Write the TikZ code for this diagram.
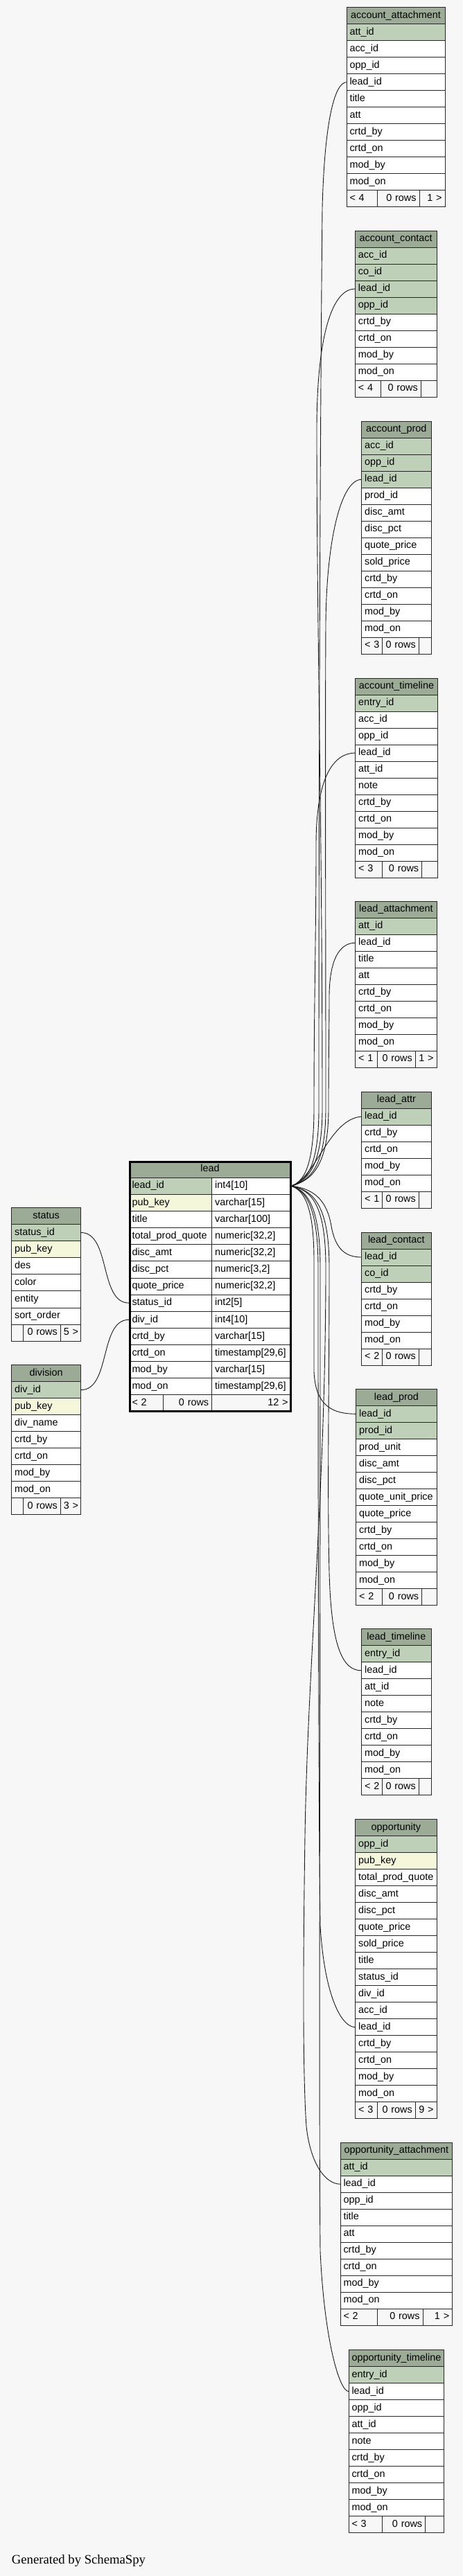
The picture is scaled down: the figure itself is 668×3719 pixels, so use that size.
\documentclass[tikz,border=0pt]{standalone}
\usepackage{fontspec}
\setmainfont{Liberation Sans}
\newfontfamily\gsfont{Liberation Serif}
\definecolor{hdrc}{HTML}{9BAB96}
\definecolor{pkc}{HTML}{BED1B8}
\definecolor{idxc}{HTML}{F4F7DA}
\definecolor{bgc}{HTML}{F7F7F7}
\definecolor{linec}{HTML}{262626}
\tikzset{
  base/.style={draw=linec, line width=0.8pt, inner xsep=4.5pt, inner ysep=0pt,
    text height=10.5pt, text depth=3pt, font=\fontsize{14.4}{16}\selectfont,
    anchor=north west, outer sep=0pt},
  hdr/.style={base, fill=hdrc, align=center},
  cell/.style={base, align=left},
  foot/.style={base, fill=bgc},
  rel/.style={draw=black!90, line width=0.9pt},
  selborder/.style={draw=black, line width=2.8pt},
}
% table: prefix, x, top, width, row height, header text, rows (fill/name/text)
\newcommand\mktable[7]{%
  \node[hdr, minimum width=#4pt, minimum height=#5pt] (#1) at (#2,#3) {#6};
  \pgfmathsetmacro\tw{#4-9}%
  \foreach \cf/\cn/\ct [count=\ri] in {#7} {
    \pgfmathsetmacro\yy{#3+#5*\ri}
    \node[cell, fill=\cf, minimum width=#4pt, minimum height=#5pt, text width=\tw pt] (#1-\cn) at (#2,\yy) {\ct};
  }%
}
% footer cell: name, x0, x1, y, h, align, text
\newcommand\fc[7]{%
  \pgfmathsetmacro\fw{#3-#2}\pgfmathsetmacro\ftw{#3-#2-9}%
  \node[foot, align=#6, minimum width=\fw pt, minimum height=#5pt, text width=\ftw pt] (#1) at (#2,#4) {#7};}
\begin{document}
\begin{tikzpicture}[x=1pt,y=-1pt]
\fill[bgc] (0,0) rectangle (668,3719);
\useasboundingbox (0,0) rectangle (668,3719);

% account_attachment
\mktable{aa}{500}{10.7}{142}{24}{account\_attachment}{pkc/attid/att\_id, white/accid/acc\_id, white/oppid/opp\_id, white/leadid/lead\_id, white/title/title, white/att/att, white/crtdby/crtd\_by, white/crtdon/crtd\_on, white/modby/mod\_by, white/modon/mod\_on}
\fc{aa-f1}{500}{544.7}{274.7}{24}{left}{<~4}
\fc{aa-f2}{544.7}{605}{274.7}{24}{right}{0~rows}
\fc{aa-f3}{605}{642}{274.7}{24}{right}{1~>}

% account_contact
\mktable{ac}{512.3}{333.1}{117.7}{24}{account\_contact}{pkc/accid/acc\_id, pkc/coid/co\_id, pkc/leadid/lead\_id, pkc/oppid/opp\_id, white/crtdby/crtd\_by, white/crtdon/crtd\_on, white/modby/mod\_by, white/modon/mod\_on}
\fc{ac-f1}{512.3}{549.7}{549.1}{24}{left}{<~4}
\fc{ac-f2}{549.7}{607.3}{549.1}{24}{right}{0~rows}
\fc{ac-f3}{607.3}{630}{549.1}{24}{right}{}

% account_prod
\mktable{ap}{521.7}{608.2}{100.3}{24}{account\_prod}{pkc/accid/acc\_id, pkc/oppid/opp\_id, pkc/leadid/lead\_id, white/prodid/prod\_id, white/discamt/disc\_amt, white/discpct/disc\_pct, white/quoteprice/quote\_price, white/soldprice/sold\_price, white/crtdby/crtd\_by, white/crtdon/crtd\_on, white/modby/mod\_by, white/modon/mod\_on}
\fc{ap-f1}{521.7}{551}{920.2}{24}{left}{<~3}
\fc{ap-f2}{551}{604.3}{920.2}{24}{right}{0~rows}
\fc{ap-f3}{604.3}{622}{920.2}{24}{right}{}

% account_timeline
\mktable{at}{512.7}{979}{118.6}{24}{account\_timeline}{pkc/entryid/entry\_id, white/accid/acc\_id, white/oppid/opp\_id, white/leadid/lead\_id, white/attid/att\_id, white/note/note, white/crtdby/crtd\_by, white/crtdon/crtd\_on, white/modby/mod\_by, white/modon/mod\_on}
\fc{at-f1}{512.7}{551.3}{1243}{24}{left}{<~3}
\fc{at-f2}{551.3}{608.7}{1243}{24}{right}{0~rows}
\fc{at-f3}{608.7}{631.3}{1243}{24}{right}{}

% lead_attachment
\mktable{la}{512.7}{1301.2}{117.3}{24}{lead\_attachment}{pkc/attid/att\_id, white/leadid/lead\_id, white/title/title, white/att/att, white/crtdby/crtd\_by, white/crtdon/crtd\_on, white/modby/mod\_by, white/modon/mod\_on}
\fc{la-f1}{512.7}{544.7}{1517.2}{24}{left}{<~1}
\fc{la-f2}{544.7}{599.3}{1517.2}{24}{right}{0~rows}
\fc{la-f3}{599.3}{630}{1517.2}{24}{right}{1~>}

% lead_attr
\mktable{lattr}{521.7}{1576}{100.3}{24}{lead\_attr}{pkc/leadid/lead\_id, white/crtdby/crtd\_by, white/crtdon/crtd\_on, white/modby/mod\_by, white/modon/mod\_on}
\fc{lattr-f1}{521.7}{551}{1720}{24}{left}{<~1}
\fc{lattr-f2}{551}{604.3}{1720}{24}{right}{0~rows}
\fc{lattr-f3}{604.3}{622}{1720}{24}{right}{}

% lead_contact
\mktable{lc}{521.7}{1779}{100.3}{24}{lead\_contact}{pkc/leadid/lead\_id, pkc/coid/co\_id, white/crtdby/crtd\_by, white/crtdon/crtd\_on, white/modby/mod\_by, white/modon/mod\_on}
\fc{lc-f1}{521.7}{551}{1947}{24}{left}{<~2}
\fc{lc-f2}{551}{604.3}{1947}{24}{right}{0~rows}
\fc{lc-f3}{604.3}{622}{1947}{24}{right}{}

% lead_prod
\mktable{lp}{513.7}{2005.3}{116.3}{24}{lead\_prod}{pkc/leadid/lead\_id, pkc/prodid/prod\_id, white/produnit/prod\_unit, white/discamt/disc\_amt, white/discpct/disc\_pct, white/qup/quote\_unit\_price, white/quoteprice/quote\_price, white/crtdby/crtd\_by, white/crtdon/crtd\_on, white/modby/mod\_by, white/modon/mod\_on}
\fc{lp-f1}{513.7}{551.3}{2293.3}{24}{left}{<~2}
\fc{lp-f2}{551.3}{608.7}{2293.3}{24}{right}{0~rows}
\fc{lp-f3}{608.7}{630}{2293.3}{24}{right}{}

% lead_timeline
\mktable{lt}{521.7}{2351.8}{100.3}{24}{lead\_timeline}{pkc/entryid/entry\_id, white/leadid/lead\_id, white/attid/att\_id, white/note/note, white/crtdby/crtd\_by, white/crtdon/crtd\_on, white/modby/mod\_by, white/modon/mod\_on}
\fc{lt-f1}{521.7}{551}{2567.8}{24}{left}{<~2}
\fc{lt-f2}{551}{604.3}{2567.8}{24}{right}{0~rows}
\fc{lt-f3}{604.3}{622}{2567.8}{24}{right}{}

% opportunity
\mktable{opp}{512.7}{2626.7}{117.3}{24}{opportunity}{pkc/oppid/opp\_id, idxc/pubkey/pub\_key, white/tpq/total\_prod\_quote, white/discamt/disc\_amt, white/discpct/disc\_pct, white/quoteprice/quote\_price, white/soldprice/sold\_price, white/title/title, white/statusid/status\_id, white/divid/div\_id, white/accid/acc\_id, white/leadid/lead\_id, white/crtdby/crtd\_by, white/crtdon/crtd\_on, white/modby/mod\_by, white/modon/mod\_on}
\fc{opp-f1}{512.7}{544.3}{3034.7}{24}{left}{<~3}
\fc{opp-f2}{544.3}{599.3}{3034.7}{24}{right}{0~rows}
\fc{opp-f3}{599.3}{630}{3034.7}{24}{right}{9~>}

% opportunity_attachment
\mktable{oa}{491}{3093.2}{161.7}{24}{opportunity\_attachment}{pkc/attid/att\_id, white/leadid/lead\_id, white/oppid/opp\_id, white/title/title, white/att/att, white/crtdby/crtd\_by, white/crtdon/crtd\_on, white/modby/mod\_by, white/modon/mod\_on}
\fc{oa-f1}{491}{544.7}{3333.2}{24}{left}{<~2}
\fc{oa-f2}{544.7}{610}{3333.2}{24}{right}{0~rows}
\fc{oa-f3}{610}{652.7}{3333.2}{24}{right}{1~>}

% opportunity_timeline
\mktable{ot}{503}{3392.5}{137.7}{24}{opportunity\_timeline}{pkc/entryid/entry\_id, white/leadid/lead\_id, white/oppid/opp\_id, white/attid/att\_id, white/note/note, white/crtdby/crtd\_by, white/crtdon/crtd\_on, white/modby/mod\_by, white/modon/mod\_on}
\fc{ot-f1}{503}{551.3}{3632.5}{24}{left}{<~3}
\fc{ot-f2}{551.3}{613.7}{3632.5}{24}{right}{0~rows}
\fc{ot-f3}{613.7}{640.7}{3632.5}{24}{right}{}

% status
\mktable{status}{16.7}{1743.3}{100}{24.1}{status}{pkc/statusid/status\_id, idxc/pubkey/pub\_key, white/des/des, white/color/color, white/entity/entity, white/sortorder/sort\_order}
\fc{status-f1}{16.7}{33.7}{1912}{24.1}{left}{}
\fc{status-f2}{33.7}{87.3}{1912}{24.1}{right}{0~rows}
\fc{status-f3}{87.3}{116.7}{1912}{24.1}{right}{5~>}

% division
\mktable{division}{16.7}{1970.7}{100}{24}{division}{pkc/divid/div\_id, idxc/pubkey/pub\_key, white/divname/div\_name, white/crtdby/crtd\_by, white/crtdon/crtd\_on, white/modby/mod\_by, white/modon/mod\_on}
\fc{division-f1}{16.7}{33.7}{2162.7}{24}{left}{}
\fc{division-f2}{33.7}{87.3}{2162.7}{24}{right}{0~rows}
\fc{division-f3}{87.3}{116.7}{2162.7}{24}{right}{3~>}

% lead (selected table)
\node[hdr, minimum width=234pt, minimum height=24.13pt] (lead) at (186,1676) {lead};
\foreach \cf/\cn/\ca/\cb [count=\ri] in {pkc/leadid/lead\_id/int4[10], idxc/pubkey/pub\_key/varchar[15], white/title/title/varchar[100], white/tpq/total\_prod\_quote/{numeric[32,2]}, white/discamt/disc\_amt/{numeric[32,2]}, white/discpct/disc\_pct/{numeric[3,2]}, white/quoteprice/quote\_price/{numeric[32,2]}, white/statusid/status\_id/int2[5], white/divid/div\_id/int4[10], white/crtdby/crtd\_by/varchar[15], white/crtdon/crtd\_on/{timestamp[29,6]}, white/modby/mod\_by/varchar[15], white/modon/mod\_on/{timestamp[29,6]}} {
  \pgfmathsetmacro\yy{1676+24.13*\ri}
  \node[cell, fill=\cf, minimum width=119.7pt, minimum height=24.13pt, text width=110.7pt] (lead-\cn) at (186,\yy) {\ca};
  \node[cell, fill=white, minimum width=114.3pt, minimum height=24.13pt, text width=105.3pt] (lead-\cn-t) at (305.7,\yy) {\cb};
}
\fc{lead-f1}{186}{235}{2013.8}{24.13}{left}{<~2}
\fc{lead-f2}{235}{305.7}{2013.8}{24.13}{right}{0~rows}
\fc{lead-f3}{305.7}{420}{2013.8}{24.13}{right}{12~>}
\draw[selborder] (187.4,1677.4) rectangle (419.6,2037.2);

% relationships: status, division -> lead
\draw[rel] (status-statusid.east) .. controls (160,1779.5) and (143,1881.1) .. (lead-statusid.west);
\draw[rel] (division-divid.east) .. controls (160,2006.7) and (143,1905.2) .. (lead-divid.west);

% relationships: lead.lead_id -> children (upward)
\draw[rel] (lead-leadid-t.east) .. controls (442,1706) and (460,1685) .. (460,1600)
  .. controls (460,1100) and (462,600) .. (465,300)
  .. controls (468,180) and (482,118.7) .. (aa-leadid.west);
\draw[rel] (lead-leadid-t.east) .. controls (446,1704) and (465,1680) .. (465,1600)
  .. controls (465,1200) and (457,900) .. (457,620)
  .. controls (457,500) and (475,417.1) .. (ac-leadid.west);
\draw[rel] (lead-leadid-t.east) .. controls (450,1704) and (470,1680) .. (470,1600)
  .. controls (470,1300) and (469,1100) .. (470,900)
  .. controls (471,780) and (492,692.2) .. (ap-leadid.west);
\draw[rel] (lead-leadid-t.east) .. controls (438,1706) and (453,1685) .. (453,1600)
  .. controls (453,1450) and (456,1350) .. (456,1220)
  .. controls (456,1120) and (482,1087) .. (at-leadid.west);
\draw[rel] (lead-leadid-t.east) .. controls (452,1704) and (474,1680) .. (474,1600)
  .. controls (474,1520) and (475,1480) .. (475,1440)
  .. controls (475,1385) and (490,1361.2) .. (la-leadid.west);
\draw[rel] (lead-leadid-t.east) .. controls (455,1702) and (475,1615) .. (lattr-leadid.west);

% relationships: lead.lead_id -> children (downward)
\draw[rel] (lead-leadid-t.east) .. controls (455,1716) and (472,1735) .. (478,1770)
  .. controls (484,1805) and (500,1815) .. (lc-leadid.west);
\draw[rel] (lead-leadid-t.east) .. controls (438,1718) and (453,1740) .. (453,1820)
  -- (453,1980) .. controls (455,2030) and (480,2041.3) .. (lp-leadid.west);
\draw[rel] (lead-leadid-t.east) .. controls (452,1718) and (475,1740) .. (475,1830)
  .. controls (475,2000) and (472,2150) .. (475,2270)
  .. controls (478,2380) and (495,2411.8) .. (lt-leadid.west);
\draw[rel] (lead-leadid-t.east) .. controls (440,1718) and (459,1740) .. (459,1830)
  .. controls (459,2300) and (460,2650) .. (462,2780)
  .. controls (468,2880) and (492,2926.7) .. (opp-leadid.west);
\draw[rel] (lead-leadid-t.east) .. controls (450,1718) and (470,1740) .. (470,1830)
  .. controls (470,2150) and (444,2400) .. (440,2650)
  .. controls (437,2850) and (437,3000) .. (442,3070)
  .. controls (448,3125) and (470,3153.2) .. (oa-leadid.west);
\draw[rel] (lead-leadid-t.east) .. controls (442,1718) and (462,1740) .. (462,1830)
  .. controls (462,2500) and (460,3050) .. (462,3250)
  .. controls (468,3380) and (490,3452.5) .. (ot-leadid.west);

\node[font=\gsfont\fontsize{18.7}{20}\selectfont, anchor=base west, inner sep=0pt] (gen) at (16.7,3701.7) {Generated by SchemaSpy};
\end{tikzpicture}
\end{document}
